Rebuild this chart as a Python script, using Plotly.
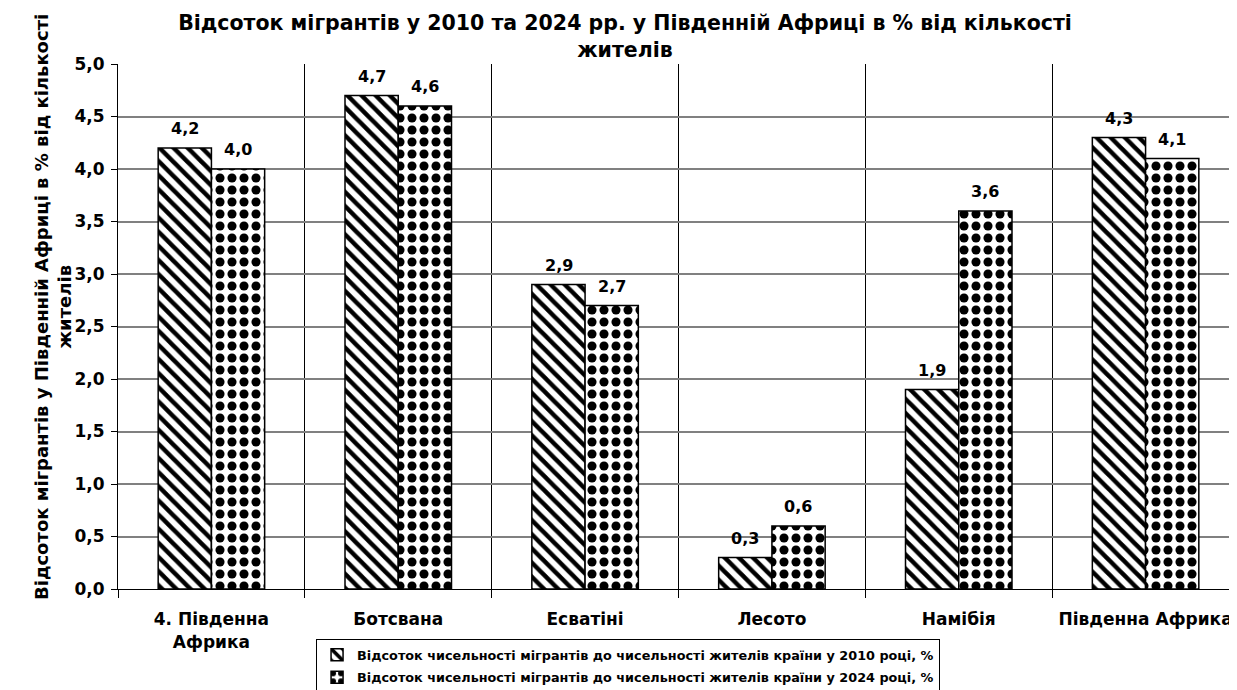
import plotly.graph_objects as go

categories = ["4. Південна<br>Африка", "Ботсвана", "Есватіні", "Лесото", "Намібія", "Південна Африка"]
values_2010 = [4.2, 4.7, 2.9, 0.3, 1.9, 4.3]
values_2024 = [4.0, 4.6, 2.7, 0.6, 3.6, 4.1]
name_2010 = "Відсоток чисельності мігрантів до чисельності жителів країни у 2010 році, %"
name_2024 = "Відсоток чисельності мігрантів до чисельності жителів країни у 2024 році, %"
y_ticks = [0.0, 0.5, 1.0, 1.5, 2.0, 2.5, 3.0, 3.5, 4.0, 4.5, 5.0]

FONT = "DejaVu Sans, Arial, sans-serif"

fig = go.Figure()
fig.add_trace(go.Bar(
    x=categories, y=values_2010, name="<b>" + name_2010 + "</b>", legendgroup="a",
    marker=dict(color="white", line=dict(color="black", width=1.5),
                pattern=dict(shape="\\", fgcolor="black", fgopacity=1, bgcolor="white",
                             size=10, solidity=0.45)),
))
fig.add_trace(go.Bar(
    x=categories, y=values_2024, name="<b>" + name_2024 + "</b>", legendgroup="b",
    marker=dict(color="white", line=dict(color="black", width=1.5),
                pattern=dict(shape=".", fgcolor="black", fgopacity=1, bgcolor="white",
                             size=12, solidity=0.45)),
))

# value labels above the bars
for vals, shift in ((values_2010, -26.5), (values_2024, 26.5)):
    for c, v in zip(categories, vals):
        fig.add_annotation(x=c, y=v, xref="x", yref="y", text="<b>" + f"{v:.1f}".replace(".", ",") + "</b>",
                           showarrow=False, xshift=shift, yshift=8, yanchor="bottom", xanchor="center",
                           font=dict(family=FONT, size=16, color="black"))

fig.add_annotation(text="<b>Відсоток мігрантів у Південній Африці в % від кількості<br>жителів</b>",
                   xref="paper", yref="paper", x=0, y=(589 - 307) / 525, xshift=-65,
                   xanchor="center", yanchor="middle", textangle=-90, showarrow=False, align="center",
                   font=dict(family=FONT, size=18, color="black"))

fig.update_layout(
    width=1237, height=690,
    margin=dict(l=110, r=6, t=56, b=109, autoexpand=False),
    paper_bgcolor="white", plot_bgcolor="white",
    separators=", ",
    font=dict(family=FONT, size=16, color="black"),
    title=dict(text="<b>Відсоток мігрантів у 2010 та 2024 рр. у Південній Африці в % від кількості<br>жителів</b>",
               x=(617 / 1237), xref="container", xanchor="center",
               y=1 - 22 / 690, yref="container", yanchor="middle",
               font=dict(family=FONT, size=20.5, color="black")),
    barmode="group", bargap=0.43, bargroupgap=0.0,
    showlegend=True,
    legend=dict(orientation="v", x=0.455, xanchor="center", y=-0.095, yanchor="top",
                bordercolor="black", borderwidth=1, bgcolor="white",
                font=dict(family=FONT, size=12.8, color="black"),
                tracegroupgap=3, itemwidth=30),
    xaxis=dict(type="category", tickson="boundaries", showgrid=True, gridcolor="black", gridwidth=1,
               showline=True, linecolor="black", linewidth=1,
               ticks="outside", ticklen=8, tickcolor="black", automargin=False,
               ticklabelstandoff=15,
               tickfont=dict(family=FONT, size=17, color="black", weight="bold")),
    yaxis=dict(range=[0, 5.0], tickvals=y_ticks, tickformat=".1f",
               showgrid=True, gridcolor="#808080", gridwidth=1.5,
               showline=True, linecolor="black", linewidth=1,
               ticks="outside", ticklen=6, tickcolor="black", automargin=False,
               ticklabelstandoff=3,
               tickfont=dict(family=FONT, size=17, color="black", weight="bold"),
               zeroline=False),
)

fig.write_html("out.html")
